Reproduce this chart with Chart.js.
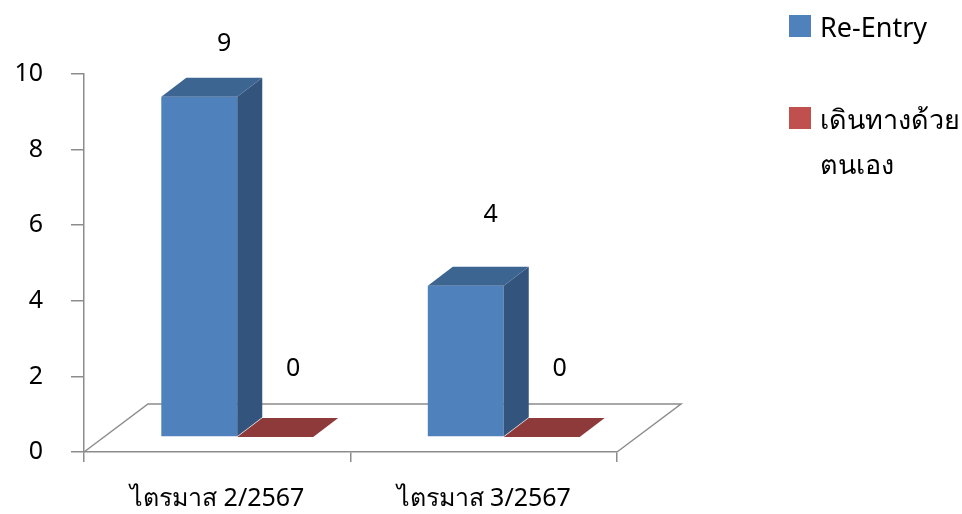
<!DOCTYPE html>
<html>
<head>
<meta charset="utf-8">
<script src="https://cdn.jsdelivr.net/npm/chart.js@4/dist/chart.umd.min.js"></script>
<style>body{margin:0;background:#fff}</style>
</head>
<body>
<canvas id="myChart" width="962" height="514"></canvas>
<script>
var categories = ['ไตรมาส 2/2567', 'ไตรมาส 3/2567'];
var reEntry = [9, 4];
var selfTravel = [0, 0];
var seriesNames = ['Re-Entry', 'เดินทางด้วย\nตนเอง'];
var yTicks = [0, 2, 4, 6, 8, 10];

var FONT = '"Noto Sans", "DejaVu Sans", sans-serif';
var DX = 20, DY = -15;   // bar front face pushed into the box
var BX = 25, BY = -19;   // bar depth
var FX = 64, FY = -48;   // floor depth
var AXIS = '#8c8c8c';

var faces = [
	{front: '#4f81bd', side: '#33547c', top: '#3d6592', legend: '#4f81bd'},
	{front: '#8e3a3a', side: '#6e2c2c', top: '#8e3a3a', legend: '#c0504d'}
];

function poly(ctx, pts, col) {
	ctx.beginPath();
	ctx.moveTo(pts[0][0], pts[0][1]);
	for (var i = 1; i < pts.length; i++) ctx.lineTo(pts[i][0], pts[i][1]);
	ctx.closePath();
	ctx.fillStyle = col;
	ctx.fill();
}

var threeD = {
	id: 'threeD',
	beforeDatasetsDraw: function(chart) {
		var ctx = chart.ctx, a = chart.chartArea;
		ctx.save();
		ctx.strokeStyle = AXIS;
		ctx.lineWidth = 1.5;
		ctx.beginPath();
		ctx.moveTo(a.left, a.bottom);
		ctx.lineTo(a.left + FX, a.bottom + FY);
		ctx.lineTo(a.right + FX, a.bottom + FY);
		ctx.lineTo(a.right, a.bottom);
		ctx.stroke();
		ctx.restore();
	},
	afterDatasetsDraw: function(chart) {
		var ctx = chart.ctx;
		ctx.save();
		chart.data.datasets.forEach(function(ds, di) {
			var f = faces[di];
			chart.getDatasetMeta(di).data.forEach(function(el, i) {
				var p = el.getProps(['x', 'y', 'base', 'width'], true);
				var l = p.x - p.width / 2 + DX, r = p.x + p.width / 2 + DX;
				var t = p.y + DY, b = p.base + DY;
				if (b - t > 0.5) {
					ctx.fillStyle = f.front;
					ctx.fillRect(l, t, r - l, b - t);
					poly(ctx, [[r, t], [r + BX, t + BY], [r + BX, b + BY], [r, b]], f.side);
				}
				poly(ctx, [[l, t], [l + BX, t + BY], [r + BX, t + BY], [r, t]], f.top);

				// value label, a little perspective like the original
				ctx.fillStyle = '#000';
				ctx.font = '25px ' + FONT;
				ctx.textAlign = 'center';
				ctx.textBaseline = 'middle';
				var v = ds.data[i];
				var lx, ly;
				if (v > 0) {
					lx = p.x + 45;
					ly = p.y - (100 - 0.095 * (p.base - p.y));
				} else {
					lx = p.x + 38;
					ly = p.y - 83;
				}
				ctx.fillText(String(v), lx, ly);
			});
		});
		ctx.restore();
	},
	afterDraw: function(chart) {
		var ctx = chart.ctx;
		ctx.save();
		ctx.font = '27px ' + FONT;
		ctx.textAlign = 'left';
		ctx.textBaseline = 'middle';
		var tops = [15, 107];
		chart.data.datasets.forEach(function(ds, di) {
			ctx.fillStyle = faces[di].legend;
			ctx.fillRect(789, tops[di], 22, 22);
			ctx.fillStyle = '#000';
			ds.label.split('\n').forEach(function(line, k) {
				ctx.fillText(line, 820, tops[di] + 14 + k * 45);
			});
		});
		ctx.restore();
	}
};

var config = {
	type: 'bar',
	data: {
		labels: categories,
		datasets: [
			{label: seriesNames[0], data: reEntry, backgroundColor: 'rgba(0,0,0,0)', borderWidth: 0},
			{label: seriesNames[1], data: selfTravel, backgroundColor: 'rgba(0,0,0,0)', borderWidth: 0}
		]
	},
	options: {
		responsive: false,
		animation: false,
		layout: {padding: {top: 74, right: 345, left: 0, bottom: 0}},
		datasets: {bar: {barPercentage: 1, categoryPercentage: 0.57}},
		plugins: {legend: {display: false}, tooltip: {enabled: false}},
		scales: {
			x: {
				afterFit: function(s) { s.height = 62; },
				border: {color: AXIS, width: 1.5},
				grid: {drawOnChartArea: false, tickLength: 10, color: AXIS, lineWidth: 1.5, offset: true},
				ticks: {color: '#000', font: {size: 25, family: FONT}, padding: 22}
			},
			y: {
				min: 0, max: 10,
				afterBuildTicks: function(s) { s.ticks = yTicks.map(function(v) { return {value: v}; }); },
				afterFit: function(s) { s.width = 84; },
				border: {color: AXIS, width: 1.5},
				grid: {drawOnChartArea: false, tickLength: 13, color: AXIS, lineWidth: 1.5},
				ticks: {color: '#000', font: {size: 25, family: FONT}, padding: 28}
			}
		}
	},
	plugins: [threeD]
};

var ctx = document.getElementById('myChart').getContext('2d');
window.myBar = new Chart(ctx, config);
</script>
</body>
</html>
